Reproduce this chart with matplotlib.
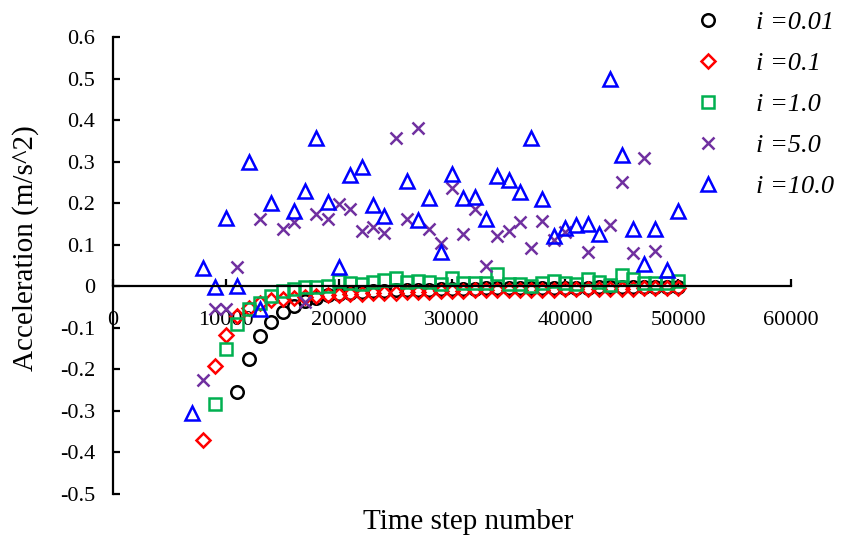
import numpy as np
import matplotlib
matplotlib.use("Agg")
import matplotlib.pyplot as plt

plt.rcParams["font.family"] = ["Liberation Serif", "DejaVu Serif"]
plt.rcParams["axes.unicode_minus"] = False

nan = np.nan

# time step number (every 1000 steps)
steps = [7000, 8000, 9000, 10000, 11000, 12000, 13000, 14000, 15000, 16000,
         17000, 18000, 19000, 20000, 21000, 22000, 23000, 24000, 25000, 26000,
         27000, 28000, 29000, 30000, 31000, 32000, 33000, 34000, 35000, 36000,
         37000, 38000, 39000, 40000, 41000, 42000, 43000, 44000, 45000, 46000,
         47000, 48000, 49000, 50000]

# acceleration (m/s^2), nan = no visible point
acc_001 = [nan, nan, nan, nan, -0.255, -0.174, -0.120, -0.085, -0.063, -0.048,
           -0.036, -0.028, -0.022, -0.018, -0.015, -0.013, -0.012, -0.011, -0.010, -0.009,
           -0.008, -0.008, -0.007, -0.007, -0.006, -0.006, -0.005, -0.005, -0.005, -0.004,
           -0.004, -0.004, -0.003, -0.003, -0.003, -0.003, -0.002, -0.002, -0.002, -0.002,
           -0.002, -0.001, -0.001, -0.001]
acc_01 = [nan, -0.371, -0.192, -0.118, -0.072, -0.052, -0.040, -0.034, -0.030, -0.028,
          -0.026, -0.024, -0.022, -0.020, -0.019, -0.018, -0.017, -0.016, -0.015, -0.014,
          -0.013, -0.013, -0.012, -0.011, -0.011, -0.010, -0.010, -0.010, -0.009, -0.009,
          -0.008, -0.008, -0.008, -0.007, -0.007, -0.007, -0.006, -0.006, -0.006, -0.006,
          -0.005, -0.005, -0.005, -0.005]
acc_1 = [nan, nan, -0.284, -0.152, -0.092, -0.055, -0.040, -0.023, -0.012, -0.006,
         -0.002, -0.001, 0.000, 0.012, 0.008, 0.006, 0.010, 0.015, 0.020, 0.010,
         0.012, 0.010, 0.006, 0.021, 0.007, 0.008, 0.008, 0.029, 0.005, 0.006,
         0.000, 0.009, 0.013, 0.009, 0.005, 0.017, 0.010, 0.004, 0.026, 0.018,
         0.008, 0.008, 0.008, 0.012]
acc_5 = [nan, -0.226, -0.055, -0.055, 0.047, nan, 0.161, nan, 0.138, 0.155,
         -0.038, 0.175, 0.163, 0.199, 0.187, 0.133, 0.143, 0.128, 0.356, 0.163,
         0.382, 0.139, 0.104, 0.237, 0.125, 0.186, 0.049, 0.120, 0.133, 0.155,
         0.091, 0.157, 0.111, 0.131, nan, 0.083, nan, 0.148, 0.251, 0.079,
         0.308, 0.086, nan, nan]
acc_10 = [-0.304, 0.045, -0.002, 0.165, 0.000, 0.300, -0.055, 0.200, nan, 0.182,
          0.230, 0.358, 0.204, 0.047, 0.268, 0.287, 0.196, 0.169, nan, 0.253,
          0.159, 0.213, 0.083, 0.270, 0.213, 0.215, 0.161, 0.266, 0.256, 0.227,
          0.358, 0.209, 0.120, 0.141, 0.147, 0.149, 0.127, 0.498, 0.315, 0.138,
          0.053, 0.137, 0.040, 0.180]

labels = ["i =0.01", "i =0.1", "i =1.0", "i =5.0", "i =10.0"]
xticks = [0, 10000, 20000, 30000, 40000, 50000, 60000]
xticklabels = ["0", "10000", "20000", "30000", "40000", "50000", "60000"]
yticks = [-0.5, -0.4, -0.3, -0.2, -0.1, 0, 0.1, 0.2, 0.3, 0.4, 0.5, 0.6]
yticklabels = ["-0.5", "-0.4", "-0.3", "-0.2", "-0.1", "0",
               "0.1", "0.2", "0.3", "0.4", "0.5", "0.6"]

fig = plt.figure(figsize=(8.44, 5.43), dpi=100)
ax = fig.add_axes([113 / 844, 49 / 543, 678 / 844, 457 / 543])

series = [
    (acc_001, "o", "black", 9),
    (acc_01, "D", "#FF0000", 7.5),
    (acc_1, "s", "#00B050", 8.5),
    (acc_5, "x", "#7030A0", 9),
    (acc_10, "^", "#0000FF", 10),
]
for (vals, mk, col, ms), lab in zip(series, labels):
    ax.plot(steps, vals, linestyle="none", marker=mk, markersize=ms,
            markerfacecolor="none", markeredgecolor=col, markeredgewidth=1.8,
            label=lab, clip_on=False)

ax.set_xlim(0, 60000)
ax.set_ylim(-0.5, 0.6)
ax.spines["top"].set_visible(False)
ax.spines["right"].set_visible(False)
ax.spines["bottom"].set_position(("data", 0))
ax.spines["bottom"].set_linewidth(1.6)
ax.spines["left"].set_linewidth(1.6)

ax.set_xticks(xticks)
ax.set_xticklabels(xticklabels)
ax.set_yticks(yticks)
ax.set_yticklabels(yticklabels)
ax.tick_params(axis="both", direction="in", length=5, width=1.6, labelsize=16)
ax.tick_params(axis="y", pad=13)
ax.tick_params(axis="x", pad=18)

fig.text(26 / 844, 1 - 248 / 543, "Acceleration (m/s^2)", rotation=90,
         ha="center", va="center", fontsize=21)
fig.text(468 / 844, 1 - 522 / 543, "Time step number",
         ha="center", va="center", fontsize=21)

leg = ax.legend(loc="upper left", bbox_to_anchor=(682 / 844, 1 - 11 / 543),
                bbox_transform=fig.transFigure, frameon=False,
                borderpad=0, borderaxespad=0, labelspacing=0.66,
                handlelength=2.0, handletextpad=0.8,
                prop={"family": "Liberation Serif", "style": "italic", "size": 19})

fig.savefig("out.png", dpi=100)
